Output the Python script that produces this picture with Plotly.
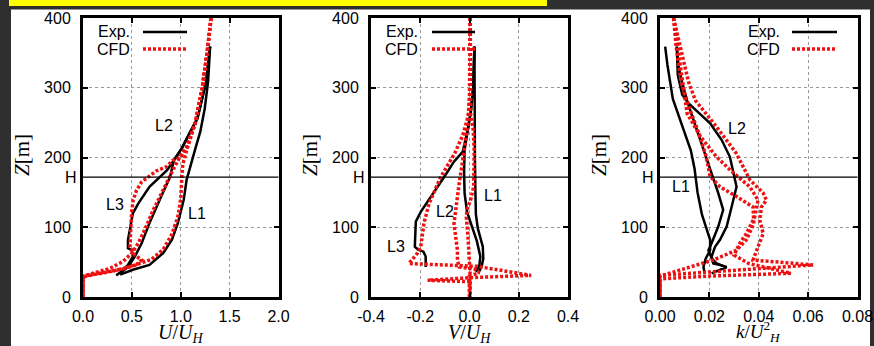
import plotly.graph_objects as go

W, HP = 874, 346

# ---------------- data ----------------
H_HEIGHT = 172
z_ticks = [0, 100, 200, 300, 400]
z_ticktext = ["0", "100", "200", "300", "400"]

u_ticks = [0.0, 0.5, 1.0, 1.5, 2.0]
u_ticktext = ["0.0", "0.5", "1.0", "1.5", "2.0"]
v_ticks = [-0.4, -0.2, 0.0, 0.2, 0.4]
v_ticktext = ["-0.4", "-0.2", "0.0", "0.2", "0.4"]
k_ticks = [0.0, 0.02, 0.04, 0.06, 0.08]
k_ticktext = ["0.00", "0.02", "0.04", "0.06", "0.08"]

# Panel 1: U/U_H  (experiment)
u_exp_L1_x = [1.30, 1.28, 1.245, 1.20, 1.15, 1.10, 1.06, 1.03, 0.97, 0.91, 0.82, 0.68, 0.51, 0.38]
u_exp_L1_z = [359, 309, 270, 237, 213, 189, 168, 139, 106, 82, 63, 46, 39, 32]
u_exp_L2_x = [1.30, 1.26, 1.22, 1.17, 1.08, 1.01, 0.93, 0.89, 0.80, 0.68, 0.60, 0.53, 0.46, 0.38]
u_exp_L2_z = [359, 309, 285, 256, 232, 213, 196, 172, 144, 106, 77, 58, 43, 34]
u_exp_L3_x = [1.30, 1.26, 1.22, 1.17, 1.08, 1.01, 0.93, 0.86, 0.68, 0.565, 0.51, 0.48, 0.46, 0.46, 0.50, 0.51, 0.46, 0.39, 0.34]
u_exp_L3_z = [359, 309, 285, 256, 232, 213, 196, 182, 158, 134, 120, 96, 82, 70, 67, 58, 46, 36, 31]
# Panel 1: CFD
u_cfd_L1_x = [1.31, 1.27, 1.22, 1.15, 1.06, 1.02, 1.01, 1.00, 0.97, 0.91, 0.82, 0.70, 0.62, 0.50, 0.30, 0.10, 0.0, 0.0]
u_cfd_L1_z = [400, 350, 300, 250, 210, 190, 170, 140, 115, 90, 68, 54, 50, 44, 37, 32, 29, 0]
u_cfd_L2_x = [1.31, 1.27, 1.22, 1.15, 1.06, 1.01, 0.92, 0.82, 0.72, 0.63, 0.565, 0.50, 0.41, 0.275, 0.10, 0.0, 0.0]
u_cfd_L2_z = [400, 350, 300, 250, 215, 206, 182, 153, 125, 96, 77, 63, 51, 41, 34, 30, 0]
u_cfd_L3_x = [1.31, 1.27, 1.22, 1.15, 1.06, 1.00, 0.92, 0.856, 0.753, 0.667, 0.60, 0.548, 0.513, 0.497, 0.487, 0.48, 0.48, 0.53, 0.60, 0.55, 0.40, 0.20, 0.05, 0.0, 0.0]
u_cfd_L3_z = [400, 350, 300, 250, 215, 200, 196, 187, 181, 172, 165, 153, 139, 120, 101, 86, 72, 60, 53, 47, 40, 35, 31, 28, 0]

# Panel 2: V/U_H  (experiment)
v_exp_L1_x = [0.02, 0.02, 0.02, 0.022, 0.024, 0.026, 0.034, 0.054, 0.056, 0.05, 0.04]
v_exp_L1_z = [359, 300, 250, 200, 150, 118, 98, 72, 55, 45, 37]
v_exp_L2_x = [0.02, 0.015, 0.005, -0.01, -0.02, -0.022, -0.02, -0.01, 0.014, 0.03, 0.044, 0.04, 0.026]
v_exp_L2_z = [359, 300, 265, 235, 211, 180, 149, 122, 98, 80, 58, 45, 36]
v_exp_L3_x = [0.02, 0.015, 0.005, -0.01, -0.028, -0.063, -0.103, -0.157, -0.198, -0.218, -0.222, -0.222, -0.209, -0.187, -0.178, -0.178]
v_exp_L3_z = [359, 300, 265, 235, 208, 194, 172, 144, 122, 108, 86, 72, 68, 65, 58, 43]
# Panel 2: CFD
v_cfd_L1_x = [0.003, 0.003, 0.005, 0.015, 0.019, 0.017, 0.005, -0.01, -0.013, -0.006, 0.0, 0.003, 0.003]
v_cfd_L1_z = [400, 300, 260, 240, 211, 158, 140, 125, 115, 86, 53, 29, 0]
v_cfd_L2_x = [0.003, 0.003, 0.0, -0.007, -0.02, -0.03, -0.042, -0.056, -0.063, -0.056, -0.049, -0.049, -0.042, 0.02, 0.04, 0.0, 0.0]
v_cfd_L2_z = [400, 300, 285, 247, 211, 190, 163, 129, 105, 86, 67, 53, 43, 40, 35, 30, 0]
v_cfd_L3_x = [0.003, 0.003, -0.005, -0.027, -0.06, -0.10, -0.117, -0.164, -0.185, -0.198, -0.211, -0.246, 0.03, 0.25, 0.02, -0.17, 0.0, 0.0]
v_cfd_L3_z = [400, 300, 260, 232, 206, 182, 172, 134, 106, 72, 63, 48, 44, 31, 28, 24, 22, 0]

# Panel 3: k/U_H^2  (experiment)
k_exp_L1_x = [0.0021, 0.003, 0.0052, 0.0095, 0.0125, 0.014, 0.0152, 0.017, 0.0186, 0.0203, 0.0203, 0.0185, 0.0176, 0.018]
k_exp_L1_z = [359, 333, 284, 240, 210, 184, 150, 118, 100, 82, 67, 55, 43, 36]
k_exp_L2_x = [0.0068, 0.0072, 0.009, 0.0115, 0.0203, 0.025, 0.0283, 0.0303, 0.031, 0.029, 0.027, 0.0243, 0.0223, 0.0209, 0.0216, 0.0243, 0.027, 0.0209]
k_exp_L2_z = [359, 318, 290, 278, 249, 225, 201, 172, 158, 129, 101, 82, 72, 58, 48, 46, 43, 34]
k_exp_L3_x = [0.0068, 0.0075, 0.0089, 0.0109, 0.0142, 0.0183, 0.0209, 0.0236, 0.0256, 0.0236, 0.0209, 0.0196, 0.021, 0.023, 0.027]
k_exp_L3_z = [359, 330, 309, 282, 247, 204, 180, 149, 125, 101, 77, 67, 55, 48, 42]
# Panel 3: CFD
k_cfd_L1_x = [0.0055, 0.0065, 0.0085, 0.012, 0.0155, 0.0185, 0.0203, 0.0243, 0.031, 0.0377, 0.038, 0.035, 0.0309, 0.0216, 0.0122, 0.003, 0.0, 0.0]
k_cfd_L1_z = [400, 360, 309, 270, 237, 204, 173, 158, 144, 129, 105, 82, 67, 53, 43, 33, 30, 0]
k_cfd_L2_x = [0.0055, 0.007, 0.0095, 0.011, 0.0164, 0.0229, 0.029, 0.0364, 0.0397, 0.0384, 0.035, 0.0323, 0.030, 0.036, 0.053, 0.02, 0.0, 0.0]
k_cfd_L2_z = [400, 360, 300, 263, 230, 201, 180, 158, 139, 115, 91, 77, 60, 48, 34, 30, 26, 0]
k_cfd_L3_x = [0.0055, 0.0085, 0.0115, 0.0143, 0.0229, 0.029, 0.0309, 0.0364, 0.0418, 0.0431, 0.0411, 0.0404, 0.0418, 0.0397, 0.0377, 0.062, 0.0, 0.0]
k_cfd_L3_z = [400, 357, 309, 282, 244, 215, 206, 168, 149, 139, 129, 110, 91, 72, 53, 46, 31, 0]

# -------------- styling helpers --------------
BLACK = "#000000"
RED = "#ee1111"
FONT = "Liberation Sans, Arial, sans-serif"
SERIF = "Liberation Serif, Times New Roman, serif"

def px_x(p):
    return p / W

def px_y(p):
    return 1 - p / HP

panels = [
    dict(xd=(83, 278.5), rng=[0, 2.0], tv=u_ticks, tt=u_ticktext,
         exp=[(u_exp_L1_x, u_exp_L1_z), (u_exp_L2_x, u_exp_L2_z), (u_exp_L3_x, u_exp_L3_z)],
         cfd=[(u_cfd_L1_x, u_cfd_L1_z), (u_cfd_L2_x, u_cfd_L2_z), (u_cfd_L3_x, u_cfd_L3_z)],
         labels=[("L1", 1.17, 120), ("L2", 0.83, 246), ("L3", 0.33, 132)],
         title="<i>U</i>/<i>U</i><sub><i>H</i></sub>", tsize=20, ttop=319,
         leg_text_right=132, leg_line=(143, 187)),
    dict(xd=(371, 568), rng=[-0.4, 0.4], tv=v_ticks, tt=v_ticktext,
         exp=[(v_exp_L1_x, v_exp_L1_z), (v_exp_L2_x, v_exp_L2_z), (v_exp_L3_x, v_exp_L3_z)],
         cfd=[(v_cfd_L1_x, v_cfd_L1_z), (v_cfd_L2_x, v_cfd_L2_z), (v_cfd_L3_x, v_cfd_L3_z)],
         labels=[("L1", 0.095, 146), ("L2", -0.10, 122), ("L3", -0.30, 72)],
         title="<i>V</i>/<i>U</i><sub><i>H</i></sub>", tsize=20, ttop=319,
         leg_text_right=420, leg_line=(432, 475)),
    dict(xd=(660, 857.5), rng=[0, 0.08], tv=k_ticks, tt=k_ticktext,
         exp=[(k_exp_L1_x, k_exp_L1_z), (k_exp_L2_x, k_exp_L2_z), (k_exp_L3_x, k_exp_L3_z)],
         cfd=[(k_cfd_L1_x, k_cfd_L1_z), (k_cfd_L2_x, k_cfd_L2_z), (k_cfd_L3_x, k_cfd_L3_z)],
         labels=[("L1", 0.0085, 158), ("L2", 0.031, 242)],
         title="<i>k</i>/<i>U</i><sup>2</sup><sub><i>H</i></sub>", tsize=19, ttop=316,
         leg_text_right=782, leg_line=(792, 837)),
]

fig = go.Figure()
shapes = []
annotations = []

# background decorations (page look)
shapes.append(dict(type="rect", xref="paper", yref="paper", x0=px_x(11), x1=px_x(870),
                   y0=0, y1=px_y(9.5), fillcolor="white", line=dict(width=0), layer="below"))
shapes.append(dict(type="rect", xref="paper", yref="paper", x0=px_x(9), x1=px_x(547),
                   y0=px_y(6), y1=1, fillcolor="#ffff00", line=dict(width=0), layer="below"))

layout_axes = {}
Y_TOP, Y_BOT = 18, 297

for i, p in enumerate(panels, start=1):
    xs = "" if i == 1 else str(i)
    xa, ya = "x" + xs, "y" + xs
    for (x, z) in p["exp"]:
        fig.add_trace(go.Scatter(x=x, y=z, xaxis=xa, yaxis=ya, mode="lines",
                                 line=dict(color=BLACK, width=2.5), showlegend=False,
                                 hoverinfo="skip"))
    for (x, z) in p["cfd"]:
        fig.add_trace(go.Scatter(x=x, y=z, xaxis=xa, yaxis=ya, mode="lines",
                                 line=dict(color=RED, width=3.5, dash="3px,2px"),
                                 showlegend=False, hoverinfo="skip"))

    common = dict(showline=True, linecolor=BLACK, linewidth=3, mirror="ticks",
                  ticks="inside", ticklen=5, tickwidth=2, tickcolor=BLACK,
                  showgrid=True, gridcolor="#9a9a9a", gridwidth=1, griddash="dot",
                  zeroline=False, automargin=False,
                  tickfont=dict(family=FONT, size=16, color=BLACK))
    layout_axes["xaxis" + xs] = dict(domain=[px_x(p["xd"][0]), px_x(p["xd"][1])],
                                     anchor=ya, range=p["rng"], tickvals=p["tv"],
                                     ticktext=p["tt"], ticklabelstandoff=3, **common)
    layout_axes["yaxis" + xs] = dict(domain=[px_y(Y_BOT), px_y(Y_TOP)], anchor=xa,
                                     range=[0, 400], tickvals=z_ticks, ticktext=z_ticktext,
                                     ticklabelstandoff=6, **common)

    # building height reference line and its label
    shapes.append(dict(type="line", xref=xa + " domain", yref=ya, x0=0, x1=1,
                       y0=H_HEIGHT, y1=H_HEIGHT, line=dict(color=BLACK, width=1.3)))
    annotations.append(dict(text="H", xref=xa + " domain", yref=ya, x=0, y=H_HEIGHT,
                            xanchor="right", yanchor="middle", xshift=-4, showarrow=False,
                            font=dict(family=FONT, size=16, color=BLACK)))
    # curve labels
    for (t, lx, lz) in p["labels"]:
        annotations.append(dict(text=t, xref=xa, yref=ya, x=lx, y=lz, showarrow=False,
                                font=dict(family=FONT, size=16, color=BLACK)))
    # axis titles
    cx = (p["xd"][0] + p["xd"][1]) / 2
    annotations.append(dict(text=p["title"], xref="paper", yref="paper", x=px_x(cx),
                            y=px_y(p["ttop"]), xanchor="center", yanchor="top",
                            showarrow=False,
                            font=dict(family=SERIF, size=p["tsize"], color=BLACK)))
    annotations.append(dict(text="<i>Z</i>[m]", xref="paper", yref="paper",
                            x=px_x(p["xd"][0] - 61), y=px_y(155), textangle=-90,
                            xanchor="center", yanchor="middle", showarrow=False,
                            font=dict(family=SERIF, size=21, color=BLACK)))
    # key
    tr = p["leg_text_right"]
    l0, l1 = p["leg_line"]
    annotations.append(dict(text="Exp.", xref="paper", yref="paper", x=px_x(tr), y=px_y(32),
                            xanchor="right", yanchor="middle", showarrow=False,
                            font=dict(family=FONT, size=16, color=BLACK)))
    annotations.append(dict(text="CFD", xref="paper", yref="paper", x=px_x(tr), y=px_y(49),
                            xanchor="right", yanchor="middle", showarrow=False,
                            font=dict(family=FONT, size=16, color=BLACK)))
    shapes.append(dict(type="line", xref="paper", yref="paper", x0=px_x(l0), x1=px_x(l1),
                       y0=px_y(32), y1=px_y(32), line=dict(color=BLACK, width=2.5)))
    shapes.append(dict(type="line", xref="paper", yref="paper", x0=px_x(l0), x1=px_x(l1),
                       y0=px_y(49), y1=px_y(49), line=dict(color=RED, width=3.5, dash="3px,2px")))

fig.update_layout(width=W, height=HP, margin=dict(l=0, r=0, t=0, b=0, autoexpand=False),
                  paper_bgcolor="#2f2f2f", plot_bgcolor="white",
                  showlegend=False, shapes=shapes, annotations=annotations,
                  **layout_axes)

fig.write_html("out.html")
